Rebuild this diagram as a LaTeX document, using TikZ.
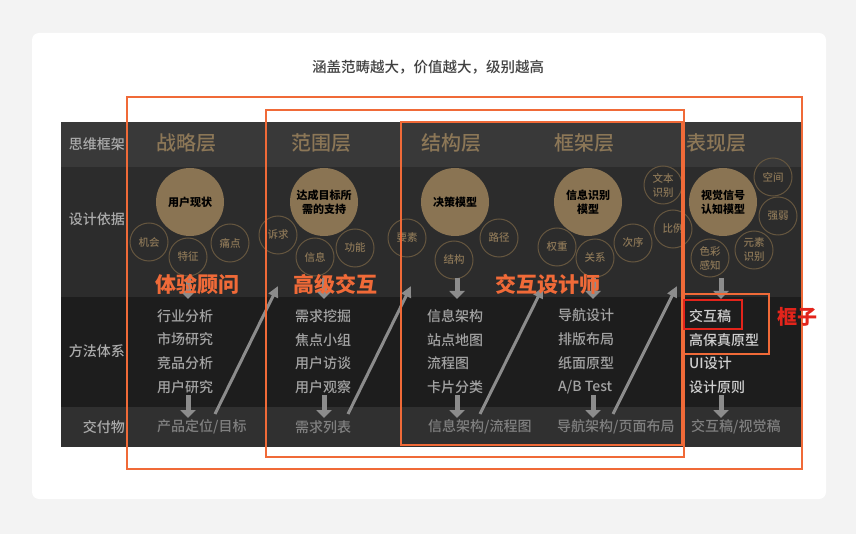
\documentclass[tikz,border=0pt]{standalone}
\usepackage{fontspec}
\setmainfont{Noto Sans CJK SC}
\newfontfamily\medfont{Noto Sans CJK SC}[UprightFont={* Medium}]
\usetikzlibrary{arrows.meta,positioning,calc}

\definecolor{pagebg}{HTML}{F3F3F3}
\definecolor{hdrbg}{HTML}{393939}
\definecolor{basisbg}{HTML}{2C2C2C}
\definecolor{methodbg}{HTML}{1D1D1D}
\definecolor{delivbg}{HTML}{303030}
\definecolor{tanc}{HTML}{8C7757}
\definecolor{ringc}{HTML}{65563F}
\definecolor{fillc}{HTML}{8A7453}
\definecolor{orangec}{HTML}{F06A38}
\definecolor{redc}{HTML}{E3241B}
\definecolor{arrowc}{HTML}{8C8C8C}

\newcommand{\pxfont}[1]{\fontsize{#1}{#1}\selectfont}

\tikzset{
    rowlabel/.style={anchor=east, inner sep=0pt, text=black!33, font=\medfont\pxfont{14}},
    layername/.style={text=tanc, font=\medfont\pxfont{20}},
    hub/.style={circle, fill=fillc, minimum size=68pt, inner sep=0pt, align=center, text=black, font=\bfseries\fontsize{11}{14}\selectfont},
    facet/.style={circle, draw=ringc, line width=1pt, minimum size=38pt, inner sep=0pt, align=center, text=tanc, font=\medfont\fontsize{10.5}{14}\selectfont},
    methods/.style={anchor=west, inner sep=0pt, align=left, text=black!36, font=\medfont\fontsize{14}{23.6}\selectfont},
    deliv/.style={anchor=west, inner sep=0pt, text=black!50, font=\medfont\pxfont{14}},
    role/.style={text=orangec, font=\bfseries\pxfont{21}},
    zone/.style={draw=orangec, line width=1.8pt},
    flow/.style={draw=arrowc, line width=5pt, -{Triangle[width=15pt,length=8pt]}},
    jump/.style={draw=arrowc, line width=3pt, -{Triangle[width=10pt,length=11pt]}},
}

\begin{document}
\begin{tikzpicture}[x=1pt, y=-1pt]
    \useasboundingbox (0,0) rectangle (856,534);

    % Card
    \fill[pagebg] (0,0) rectangle (856,534);
    \fill[white, rounded corners=7pt] (32,33) rectangle (826,499);
    \node[text=black!75, font=\medfont\pxfont{14.5}] (title) at (428,67) {涵盖范畴越大，价值越大，级别越高};

    % Table bands
    \fill[hdrbg] (61,122) rectangle (802,167);
    \fill[basisbg] (61,167) rectangle (802,297);
    \fill[methodbg] (61,297) rectangle (802,407);
    \fill[delivbg] (61,407) rectangle (802,447);

    % Row labels
    \node[rowlabel] (rframe) at (125,144) {思维框架};
    \node[rowlabel] (rbasis) at (125,219) {设计依据};
    \node[rowlabel] (rmethod) at (125,351) {方法体系};
    \node[rowlabel] (rdeliv) at (125,427) {交付物};

    % Layers
    \node[layername] (l1) at (186,143) {战略层};
    \node[layername] (l2) at (321,143) {范围层};
    \node[layername] (l3) at (451,143) {结构层};
    \node[layername] (l4) at (584,143) {框架层};
    \node[layername] (l5) at (716,143) {表现层};

    % Design basis
    \node[hub] (c1) at (190,202) {用户现状};
    \node[facet] (c1a) at (149,242) {机会};
    \node[facet] (c1b) at (188,257) {特征};
    \node[facet] (c1c) at (230,243) {痛点};

    \node[hub] (c2) at (324,202) {达成目标所\\需的支持};
    \node[facet] (c2a) at (278,235) {诉求};
    \node[facet] (c2b) at (315,257) {信息};
    \node[facet] (c2c) at (355,248) {功能};

    \node[hub] (c3) at (455,202) {决策模型};
    \node[facet] (c3a) at (407,238) {要素};
    \node[facet] (c3b) at (454,260) {结构};
    \node[facet] (c3c) at (499,238) {路径};

    \node[hub] (c4) at (588,202) {信息识别\\模型};
    \node[facet] (c4a) at (557,247) {权重};
    \node[facet] (c4b) at (595,258) {关系};
    \node[facet] (c4c) at (633,243) {次序};
    \node[facet] (c4d) at (663,185) {文本\\识别};
    \node[facet] (c4e) at (673,229) {比例};

    \node[hub] (c5) at (723,202) {视觉信号\\认知模型};
    \node[facet] (c5a) at (773,177) {空间};
    \node[facet] (c5b) at (778,216) {强弱};
    \node[facet] (c5c) at (754,250) {元素\\识别};
    \node[facet] (c5d) at (710,258) {色彩\\感知};

    % Methods
    \node[methods] (m1) at (157,351.5) {行业分析\\市场研究\\竞品分析\\用户研究};
    \node[methods] (m2) at (295,351.5) {需求挖掘\\焦点小组\\用户访谈\\用户观察};
    \node[methods] (m3) at (427,351.5) {信息架构\\站点地图\\流程图\\卡片分类};
    \node[methods] (m4) at (558,351.5) {导航设计\\排版布局\\纸面原型\\A/B Test};
    \node[methods, text=black!18] (m5) at (689,351.5) {交互稿\\高保真原型\\UI设计\\设计原则};

    % Deliverables
    \node[deliv] (d1) at (157,427) {产品定位/目标};
    \node[deliv] (d2) at (295,427) {需求列表};
    \node[deliv] (d3) at (428,427) {信息架构/流程图};
    \node[deliv] (d4) at (557,427) {导航架构/页面布局};
    \node[deliv] (d5) at (691,427) {交互稿/视觉稿};

    % Down arrows
    \foreach \i/\ax in {1/188,2/324,3/457,4/593,5/721}{
        \coordinate (top\i) at (\ax,278);
        \coordinate (mid\i) at (\ax,299);
        \coordinate (low\i) at (\ax,395);
        \coordinate (end\i) at (\ax,418);
        \draw[flow] (top\i) -- (mid\i);
        \draw[flow] (low\i) -- (end\i);
    }

    % Level-up arrows
    \coordinate (j1a) at (215,414); \coordinate (j1b) at (278,286);
    \coordinate (j2a) at (348,414); \coordinate (j2b) at (411,286);
    \coordinate (j3a) at (480,414); \coordinate (j3b) at (543,287);
    \coordinate (j4a) at (613,414); \coordinate (j4b) at (677,286);
    \draw[jump] (j1a) -- (j1b);
    \draw[jump] (j2a) -- (j2b);
    \draw[jump] (j3a) -- (j3b);
    \draw[jump] (j4a) -- (j4b);

    % Roles
    \node[role] (r1) at (197,284) {体验顾问};
    \node[role] (r2) at (335,284) {高级交互};
    \node[role] (r3) at (548,284) {交互设计师};

    % Scope frames
    \draw[zone] (127,97) rectangle (802,469);
    \draw[zone] (266,110) rectangle (684,457);
    \draw[zone] (401,122) rectangle (682,445);
    \draw[zone] (684,294) rectangle (769,354);
    \draw[zone, draw=redc] (684,300) rectangle (742,329);
    \node[text=redc, font=\bfseries\pxfont{20}] (boxnote) at (797,317) {框子};
\end{tikzpicture}
\end{document}
